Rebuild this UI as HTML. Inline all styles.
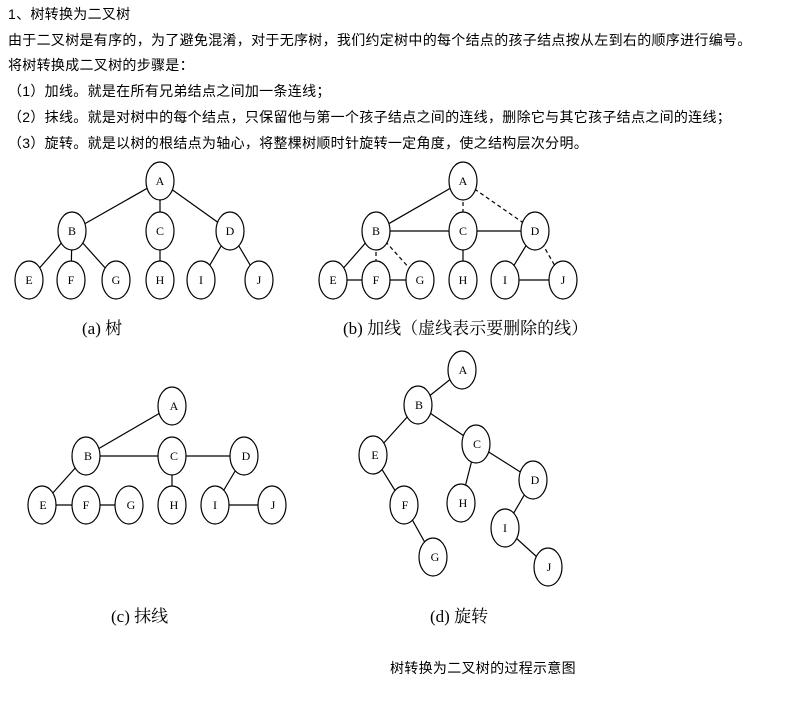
<!DOCTYPE html>
<html><head><meta charset="utf-8"><style>
body{margin:0;background:#fff;width:803px;height:703px;overflow:hidden;position:relative;font-family:"Liberation Sans","Noto Sans CJK SC",sans-serif;}
.t{position:absolute;left:8px;font-size:14px;letter-spacing:0.3px;color:#000;white-space:nowrap;}
svg{position:absolute;left:0;top:0;}
</style></head><body>
<div class="t" style="top:4px">1、树转换为二叉树</div>
<div class="t" style="top:30px">由于二叉树是有序的，为了避免混淆，对于无序树，我们约定树中的每个结点的孩子结点按从左到右的顺序进行编号。</div>
<div class="t" style="top:55px">将树转换成二叉树的步骤是：</div>
<div class="t" style="top:81px">（1）加线。就是在所有兄弟结点之间加一条连线；</div>
<div class="t" style="top:107px">（2）抹线。就是对树中的每个结点，只保留他与第一个孩子结点之间的连线，删除它与其它孩子结点之间的连线；</div>
<div class="t" style="top:133px">（3）旋转。就是以树的根结点为轴心，将整棵树顺时针旋转一定角度，使之结构层次分明。</div>
<svg width="803" height="703" xmlns="http://www.w3.org/2000/svg" font-family="Liberation Serif, Noto Serif CJK SC, serif" font-size="12">
<g stroke="#000" stroke-width="1.2">
<line x1="160" y1="181" x2="72" y2="231"/><line x1="160" y1="181" x2="160" y2="231"/><line x1="160" y1="181" x2="230" y2="231"/>
<line x1="72" y1="231" x2="29" y2="280"/><line x1="72" y1="231" x2="71" y2="280"/><line x1="72" y1="231" x2="116" y2="280"/>
<line x1="160" y1="231" x2="160" y2="280"/><line x1="230" y1="231" x2="201" y2="280"/><line x1="230" y1="231" x2="259" y2="280"/>
<line x1="463" y1="181" x2="376" y2="231"/>
<line x1="463" y1="181" x2="463" y2="231" stroke-dasharray="4,3"/><line x1="463" y1="181" x2="535" y2="231" stroke-dasharray="4,3"/>
<line x1="376" y1="231" x2="535" y2="231"/>
<line x1="376" y1="231" x2="333" y2="280"/><line x1="376" y1="231" x2="376" y2="280" stroke-dasharray="4,3"/><line x1="376" y1="231" x2="420" y2="280" stroke-dasharray="4,3"/>
<line x1="333" y1="280" x2="420" y2="280"/>
<line x1="463" y1="231" x2="463" y2="280"/><line x1="535" y1="231" x2="505" y2="280"/><line x1="535" y1="231" x2="563" y2="280" stroke-dasharray="4,3"/>
<line x1="505" y1="280" x2="563" y2="280"/>
<line x1="172" y1="406" x2="86" y2="456"/><line x1="86" y1="456" x2="244" y2="456"/>
<line x1="86" y1="456" x2="42" y2="505"/><line x1="42" y1="505" x2="129" y2="505"/>
<line x1="172" y1="456" x2="172" y2="505"/><line x1="244" y1="456" x2="215" y2="505"/><line x1="215" y1="505" x2="272" y2="505"/>
<line x1="462" y1="370" x2="418" y2="405"/><line x1="418" y1="405" x2="373" y2="455"/><line x1="418" y1="405" x2="476" y2="444"/>
<line x1="373" y1="455" x2="404" y2="505"/><line x1="404" y1="505" x2="433" y2="557"/>
<line x1="476" y1="444" x2="461" y2="503"/><line x1="476" y1="444" x2="533" y2="480"/>
<line x1="533" y1="480" x2="505" y2="528"/><line x1="505" y1="528" x2="548" y2="567"/>
</g>
<g fill="#fff" stroke="#000" stroke-width="1.2">
<ellipse cx="160" cy="181" rx="14" ry="19"/><ellipse cx="72" cy="231" rx="14" ry="19"/><ellipse cx="160" cy="231" rx="14" ry="19"/><ellipse cx="230" cy="231" rx="14" ry="19"/>
<ellipse cx="29" cy="280" rx="14" ry="19"/><ellipse cx="71" cy="280" rx="14" ry="19"/><ellipse cx="116" cy="280" rx="14" ry="19"/><ellipse cx="160" cy="280" rx="14" ry="19"/><ellipse cx="201" cy="280" rx="14" ry="19"/><ellipse cx="259" cy="280" rx="14" ry="19"/>
<ellipse cx="463" cy="181" rx="14" ry="19"/><ellipse cx="376" cy="231" rx="14" ry="19"/><ellipse cx="463" cy="231" rx="14" ry="19"/><ellipse cx="535" cy="231" rx="14" ry="19"/>
<ellipse cx="333" cy="280" rx="14" ry="19"/><ellipse cx="376" cy="280" rx="14" ry="19"/><ellipse cx="420" cy="280" rx="14" ry="19"/><ellipse cx="463" cy="280" rx="14" ry="19"/><ellipse cx="505" cy="280" rx="14" ry="19"/><ellipse cx="563" cy="280" rx="14" ry="19"/>
<ellipse cx="172" cy="406" rx="14" ry="19"/><ellipse cx="86" cy="456" rx="14" ry="19"/><ellipse cx="172" cy="456" rx="14" ry="19"/><ellipse cx="244" cy="456" rx="14" ry="19"/>
<ellipse cx="42" cy="505" rx="14" ry="19"/><ellipse cx="86" cy="505" rx="14" ry="19"/><ellipse cx="129" cy="505" rx="14" ry="19"/><ellipse cx="172" cy="505" rx="14" ry="19"/><ellipse cx="215" cy="505" rx="14" ry="19"/><ellipse cx="272" cy="505" rx="14" ry="19"/>
<ellipse cx="462" cy="370" rx="14" ry="19"/><ellipse cx="418" cy="405" rx="14" ry="19"/><ellipse cx="373" cy="455" rx="14" ry="19"/><ellipse cx="476" cy="444" rx="14" ry="19"/>
<ellipse cx="404" cy="505" rx="14" ry="19"/><ellipse cx="461" cy="503" rx="14" ry="19"/><ellipse cx="533" cy="480" rx="14" ry="19"/><ellipse cx="433" cy="557" rx="14" ry="19"/><ellipse cx="505" cy="528" rx="14" ry="19"/><ellipse cx="548" cy="567" rx="14" ry="19"/>
</g>
<g text-anchor="middle" fill="#000">
<text x="160" y="185">A</text><text x="72" y="235">B</text><text x="160" y="235">C</text><text x="230" y="235">D</text>
<text x="29" y="284">E</text><text x="71" y="284">F</text><text x="116" y="284">G</text><text x="160" y="284">H</text><text x="201" y="284">I</text><text x="259" y="284">J</text>
<text x="463" y="185">A</text><text x="376" y="235">B</text><text x="463" y="235">C</text><text x="535" y="235">D</text>
<text x="333" y="284">E</text><text x="376" y="284">F</text><text x="420" y="284">G</text><text x="463" y="284">H</text><text x="505" y="284">I</text><text x="563" y="284">J</text>
<text x="174" y="410">A</text><text x="88" y="460">B</text><text x="174" y="460">C</text><text x="246" y="460">D</text>
<text x="43" y="509">E</text><text x="86" y="509">F</text><text x="131" y="509">G</text><text x="174" y="509">H</text><text x="215" y="509">I</text><text x="273" y="509">J</text>
<text x="463" y="374">A</text><text x="419" y="409">B</text><text x="477" y="448">C</text><text x="375" y="459">E</text>
<text x="405" y="509">F</text><text x="463" y="507">H</text><text x="535" y="484">D</text><text x="435" y="561">G</text><text x="505" y="532">I</text><text x="549" y="571">J</text>
</g>
<g font-size="17" fill="#000">
<text x="82" y="334">(a)  树</text>
<text x="343" y="334">(b)  加线（虚线表示要删除的线）</text>
<text x="111" y="622">(c)  抹线</text>
<text x="430" y="622">(d)  旋转</text>
</g>
<text x="390" y="673" font-size="14" letter-spacing="0.3" font-family="Liberation Sans, Noto Sans CJK SC, sans-serif">树转换为二叉树的过程示意图</text>
</svg>
</body></html>
